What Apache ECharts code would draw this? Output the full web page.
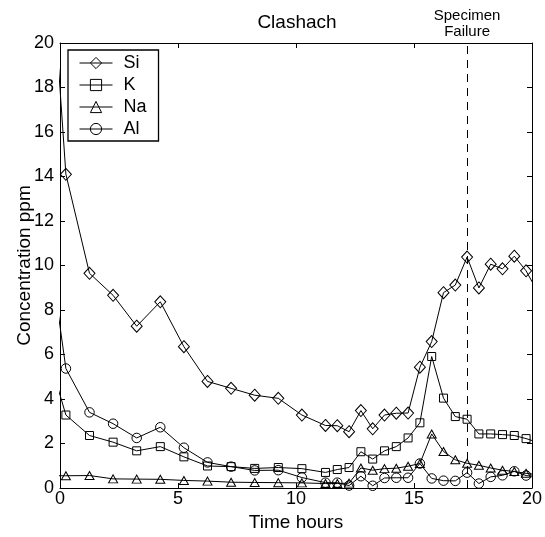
<!DOCTYPE html>
<html>
<head>
<meta charset="utf-8">
<title>Clashach</title>
<script src="https://cdn.jsdelivr.net/npm/echarts@6/dist/echarts.min.js"></script>
<style>
  html, body { margin: 0; padding: 0; background: #fff; }
  #chart { width: 545px; height: 537px; }
</style>
</head>
<body>
<div id="chart"></div>
<script>
// Sampling times (hours); the first and last samples lie just outside the 0-20 h window
const hours = [-0.25, 0.25, 1.25, 2.25, 3.25, 4.25, 5.25, 6.25, 7.25, 8.25, 9.25, 10.25, 11.25,
  11.75, 12.25, 12.75, 13.25, 13.75, 14.25, 14.75, 15.25, 15.75, 16.25, 16.75, 17.25,
  17.75, 18.25, 18.75, 19.25, 19.75, 20.25];

// Concentrations (ppm)
const si = [21.8, 14.1, 9.65, 8.66, 7.27, 8.37, 6.35, 4.79, 4.48, 4.17, 4.03, 3.28, 2.81,
  2.80, 2.53, 3.48, 2.66, 3.28, 3.36, 3.37, 5.43, 6.58, 8.78, 9.12, 10.38,
  8.99, 10.06, 9.85, 10.42, 9.76, 8.8];
const k = [5.08, 3.28, 2.36, 2.06, 1.67, 1.86, 1.40, 0.99, 0.96, 0.88, 0.92, 0.87, 0.70,
  0.83, 0.92, 1.63, 1.30, 1.67, 1.86, 2.25, 2.93, 5.91, 4.04, 3.21, 3.09,
  2.43, 2.43, 2.40, 2.36, 2.22, 2.05];
const na = [0.55, 0.55, 0.56, 0.41, 0.40, 0.39, 0.34, 0.31, 0.26, 0.25, 0.24, 0.23, 0.20,
  0.20, 0.22, 0.90, 0.80, 0.87, 0.89, 0.98, 1.10, 2.43, 1.64, 1.27, 1.11,
  1.02, 0.90, 0.80, 0.74, 0.66, 0.60];
const al = [9.17, 5.37, 3.40, 2.89, 2.25, 2.73, 1.81, 1.15, 0.96, 0.79, 0.80, 0.47, 0.24,
  0.24, 0.11, 0.53, 0.10, 0.45, 0.46, 0.46, 1.10, 0.43, 0.33, 0.32, 0.69,
  0.20, 0.50, 0.57, 0.75, 0.56, 0.50];

const seriesNames = ['Si', 'K', 'Na', 'Al'];
const failureHour = 17.25;
const failureLabel = 'Specimen\nFailure';
const chartTitle = 'Clashach';
const xName = 'Time hours';
const yName = 'Concentration ppm';
const xRange = [0, 20], xStep = 5;
const yRange = [0, 20], yStep = 2;

const FONT = '"Liberation Sans", Arial, Helvetica, sans-serif';

function pairs(values) {
  return hours.map((h, i) => [h, values[i]]);
}

const markerStyle = {
  color: 'rgba(255,255,255,0)',
  borderColor: '#000',
  borderWidth: 1
};

function lineSeries(name, values, symbol, size, extra) {
  return Object.assign({
    name: name,
    type: 'line',
    data: pairs(values),
    symbol: symbol,
    symbolSize: size,
    showAllSymbol: true,
    clip: true,
    lineStyle: { color: '#000', width: 1 },
    itemStyle: markerStyle,
    emphasis: { disabled: true },
    animation: false
  }, extra || {});
}

const chart = echarts.init(document.getElementById('chart'), null, { renderer: 'canvas' });

const baseX = {
  type: 'value', min: xRange[0], max: xRange[1], interval: xStep,
  splitLine: { show: false },
  axisLine: { show: true, onZero: false, lineStyle: { color: '#000', width: 1 } },
  axisTick: { show: true, inside: true, length: 5, lineStyle: { color: '#000', width: 1 } }
};
const baseY = {
  type: 'value', min: yRange[0], max: yRange[1], interval: yStep,
  splitLine: { show: false },
  axisLine: { show: true, onZero: false, lineStyle: { color: '#000', width: 1 } },
  axisTick: { show: true, inside: true, length: 5, lineStyle: { color: '#000', width: 1 } }
};

chart.setOption({
  backgroundColor: '#fff',
  animation: false,
  textStyle: { fontFamily: FONT, color: '#000' },
  title: {
    text: chartTitle,
    left: 297,
    textAlign: 'center',
    top: 13,
    padding: 0,
    textStyle: { fontFamily: FONT, fontSize: 19, fontWeight: 'normal', color: '#000' }
  },
  grid: { left: 60, right: 11, top: 43, bottom: 47.5, containLabel: false },
  legend: {
    orient: 'vertical',
    left: 68,
    top: 50,
    data: seriesNames,
    itemWidth: 33,
    itemHeight: 14,
    itemGap: 4,
    padding: [4, 12, 3, 11],
    borderColor: '#000',
    borderWidth: 1.3,
    backgroundColor: '#fff',
    selectedMode: false,
    lineStyle: { color: '#000', width: 1 },
    itemStyle: { color: 'rgba(255,255,255,0)', borderColor: '#000', borderWidth: 1 },
    textStyle: { fontFamily: FONT, fontSize: 18, color: '#000', lineHeight: 18, padding: [0, 0, 0, 6] }
  },
  xAxis: [
    Object.assign({}, baseX, {
      position: 'bottom',
      name: xName,
      nameLocation: 'middle',
      nameGap: 25,
      nameMoveOverlap: false,
      nameTextStyle: { fontFamily: FONT, fontSize: 19, color: '#000' },
      axisLabel: { show: true, margin: 2, fontFamily: FONT, fontSize: 18, color: '#000' }
    }),
    Object.assign({}, baseX, { position: 'top', axisLabel: { show: false } })
  ],
  yAxis: [
    Object.assign({}, baseY, {
      position: 'left',
      name: yName,
      nameLocation: 'middle',
      nameGap: 26,
      nameMoveOverlap: false,
      nameTextStyle: { fontFamily: FONT, fontSize: 19, color: '#000' },
      axisLabel: { show: true, margin: 6, fontFamily: FONT, fontSize: 18, color: '#000' }
    }),
    Object.assign({}, baseY, { position: 'right', axisLabel: { show: false } })
  ],
  series: [
    lineSeries('Si', si, 'diamond', [11, 12], {
      markLine: {
        silent: true,
        symbol: ['none', 'none'],
        animation: false,
        lineStyle: { color: '#000', width: 1, type: [8, 6] },
        label: {
          show: true,
          position: 'end',
          distance: 3,
          formatter: failureLabel,
          fontFamily: FONT,
          fontSize: 15,
          lineHeight: 16,
          color: '#000',
          align: 'center'
        },
        data: [{ xAxis: failureHour }]
      }
    }),
    lineSeries('K', k, 'rect', 8),
    lineSeries('Na', na, 'triangle', [9, 8]),
    lineSeries('Al', al, 'circle', 9.5)
  ]
});
</script>
</body>
</html>
